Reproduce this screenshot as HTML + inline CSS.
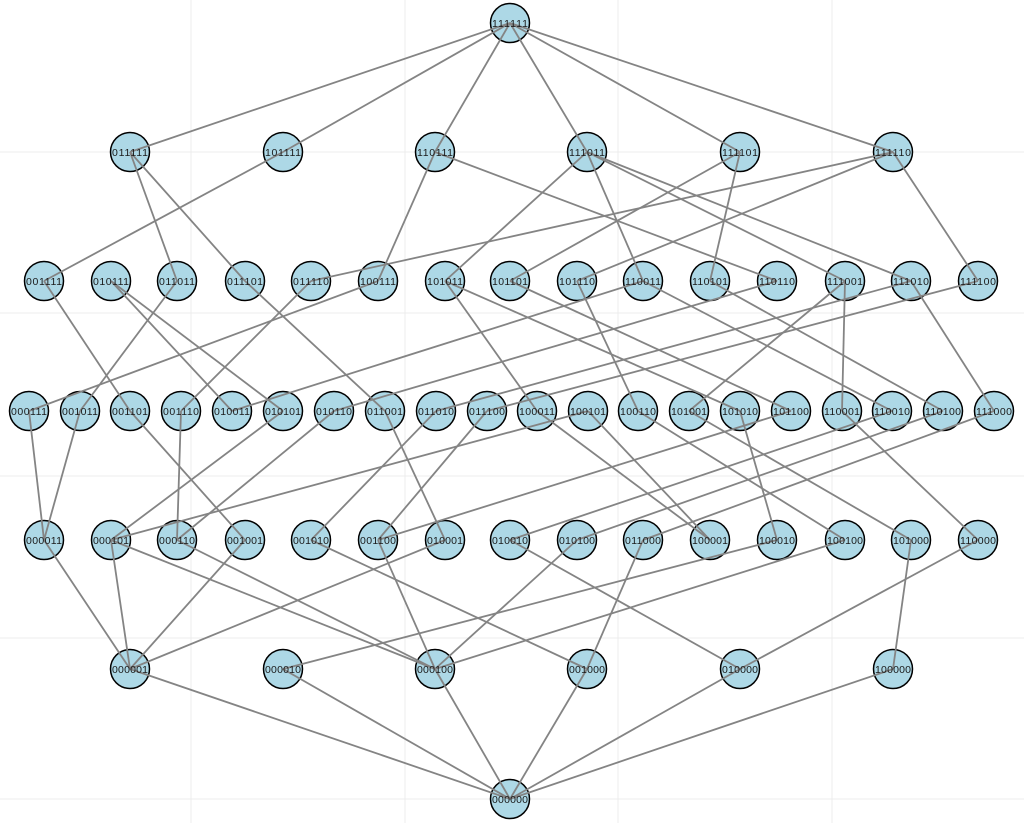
<!DOCTYPE html>
<html><head><meta charset="utf-8"><style>
html,body{margin:0;padding:0;background:#fff;}
svg{display:block;}
.e line{stroke:#848484;stroke-width:1.8;}
.g line{stroke:#ececec;stroke-width:1;}
.n circle{fill:#add8e6;stroke:#000;stroke-width:1.5;}
.t text{font-family:"Liberation Sans",sans-serif;font-size:10.5px;fill:#1a1a1a;text-anchor:middle;}
</style></head><body>
<svg width="1024" height="823" viewBox="0 0 1024 823" xmlns="http://www.w3.org/2000/svg">
<g class="g">
<line x1="191" y1="0" x2="191" y2="823"/><line x1="405" y1="0" x2="405" y2="823"/><line x1="618" y1="0" x2="618" y2="823"/><line x1="832" y1="0" x2="832" y2="823"/>
<line x1="0" y1="152" x2="1024" y2="152"/><line x1="0" y1="313" x2="1024" y2="313"/><line x1="0" y1="476" x2="1024" y2="476"/><line x1="0" y1="638" x2="1024" y2="638"/><line x1="0" y1="799" x2="1024" y2="799"/>
</g>
<g class="n">
<circle cx="510" cy="23" r="19.5"/>
<circle cx="130" cy="152" r="19.5"/><circle cx="283" cy="152" r="19.5"/><circle cx="435" cy="152" r="19.5"/><circle cx="587" cy="152" r="19.5"/><circle cx="740" cy="152" r="19.5"/><circle cx="893" cy="152" r="19.5"/>
<circle cx="44" cy="281" r="19.5"/><circle cx="111" cy="281" r="19.5"/><circle cx="177" cy="281" r="19.5"/><circle cx="245" cy="281" r="19.5"/><circle cx="311" cy="281" r="19.5"/><circle cx="378" cy="281" r="19.5"/><circle cx="445" cy="281" r="19.5"/><circle cx="510" cy="281" r="19.5"/><circle cx="577" cy="281" r="19.5"/><circle cx="643" cy="281" r="19.5"/><circle cx="710" cy="281" r="19.5"/><circle cx="777" cy="281" r="19.5"/><circle cx="845" cy="281" r="19.5"/><circle cx="911" cy="281" r="19.5"/><circle cx="978" cy="281" r="19.5"/>
<circle cx="29" cy="411" r="19.5"/><circle cx="80" cy="411" r="19.5"/><circle cx="130" cy="411" r="19.5"/><circle cx="181" cy="411" r="19.5"/><circle cx="232" cy="411" r="19.5"/><circle cx="283" cy="411" r="19.5"/><circle cx="334" cy="411" r="19.5"/><circle cx="385" cy="411" r="19.5"/><circle cx="436" cy="411" r="19.5"/><circle cx="487" cy="411" r="19.5"/><circle cx="537" cy="411" r="19.5"/><circle cx="588" cy="411" r="19.5"/><circle cx="638" cy="411" r="19.5"/><circle cx="689" cy="411" r="19.5"/><circle cx="740" cy="411" r="19.5"/><circle cx="791" cy="411" r="19.5"/><circle cx="842" cy="411" r="19.5"/><circle cx="892" cy="411" r="19.5"/><circle cx="943" cy="411" r="19.5"/><circle cx="994" cy="411" r="19.5"/>
<circle cx="44" cy="540" r="19.5"/><circle cx="111" cy="540" r="19.5"/><circle cx="177" cy="540" r="19.5"/><circle cx="245" cy="540" r="19.5"/><circle cx="311" cy="540" r="19.5"/><circle cx="378" cy="540" r="19.5"/><circle cx="445" cy="540" r="19.5"/><circle cx="510" cy="540" r="19.5"/><circle cx="577" cy="540" r="19.5"/><circle cx="643" cy="540" r="19.5"/><circle cx="710" cy="540" r="19.5"/><circle cx="777" cy="540" r="19.5"/><circle cx="845" cy="540" r="19.5"/><circle cx="911" cy="540" r="19.5"/><circle cx="978" cy="540" r="19.5"/>
<circle cx="130" cy="669" r="19.5"/><circle cx="283" cy="669" r="19.5"/><circle cx="435" cy="669" r="19.5"/><circle cx="587" cy="669" r="19.5"/><circle cx="740" cy="669" r="19.5"/><circle cx="893" cy="669" r="19.5"/>
<circle cx="510" cy="799" r="19.5"/>
</g>
<g class="e">
<line x1="510" y1="23" x2="130" y2="152"/><line x1="510" y1="23" x2="283" y2="152"/><line x1="510" y1="23" x2="435" y2="152"/><line x1="510" y1="23" x2="587" y2="152"/><line x1="510" y1="23" x2="740" y2="152"/><line x1="510" y1="23" x2="893" y2="152"/>
<line x1="130" y1="152" x2="177" y2="281"/><line x1="130" y1="152" x2="245" y2="281"/><line x1="283" y1="152" x2="44" y2="281"/><line x1="435" y1="152" x2="378" y2="281"/><line x1="435" y1="152" x2="777" y2="281"/><line x1="587" y1="152" x2="445" y2="281"/><line x1="587" y1="152" x2="643" y2="281"/><line x1="587" y1="152" x2="845" y2="281"/><line x1="587" y1="152" x2="911" y2="281"/><line x1="740" y1="152" x2="510" y2="281"/><line x1="740" y1="152" x2="710" y2="281"/><line x1="893" y1="152" x2="311" y2="281"/><line x1="893" y1="152" x2="577" y2="281"/><line x1="893" y1="152" x2="978" y2="281"/>
<line x1="378" y1="281" x2="29" y2="411"/><line x1="177" y1="281" x2="80" y2="411"/><line x1="44" y1="281" x2="130" y2="411"/><line x1="311" y1="281" x2="181" y2="411"/><line x1="111" y1="281" x2="232" y2="411"/><line x1="643" y1="281" x2="232" y2="411"/><line x1="111" y1="281" x2="283" y2="411"/><line x1="777" y1="281" x2="334" y2="411"/><line x1="245" y1="281" x2="385" y2="411"/><line x1="911" y1="281" x2="436" y2="411"/><line x1="978" y1="281" x2="487" y2="411"/><line x1="445" y1="281" x2="537" y2="411"/><line x1="577" y1="281" x2="638" y2="411"/><line x1="845" y1="281" x2="689" y2="411"/><line x1="445" y1="281" x2="740" y2="411"/><line x1="510" y1="281" x2="791" y2="411"/><line x1="845" y1="281" x2="842" y2="411"/><line x1="643" y1="281" x2="892" y2="411"/><line x1="710" y1="281" x2="943" y2="411"/><line x1="911" y1="281" x2="994" y2="411"/>
<line x1="29" y1="411" x2="44" y2="540"/><line x1="80" y1="411" x2="44" y2="540"/><line x1="283" y1="411" x2="111" y2="540"/><line x1="588" y1="411" x2="111" y2="540"/><line x1="181" y1="411" x2="177" y2="540"/><line x1="334" y1="411" x2="177" y2="540"/><line x1="130" y1="411" x2="245" y2="540"/><line x1="436" y1="411" x2="311" y2="540"/><line x1="487" y1="411" x2="378" y2="540"/><line x1="791" y1="411" x2="378" y2="540"/><line x1="385" y1="411" x2="445" y2="540"/><line x1="892" y1="411" x2="510" y2="540"/><line x1="943" y1="411" x2="577" y2="540"/><line x1="994" y1="411" x2="643" y2="540"/><line x1="537" y1="411" x2="710" y2="540"/><line x1="588" y1="411" x2="710" y2="540"/><line x1="740" y1="411" x2="777" y2="540"/><line x1="638" y1="411" x2="845" y2="540"/><line x1="689" y1="411" x2="911" y2="540"/><line x1="842" y1="411" x2="978" y2="540"/>
<line x1="44" y1="540" x2="130" y2="669"/><line x1="111" y1="540" x2="130" y2="669"/><line x1="245" y1="540" x2="130" y2="669"/><line x1="445" y1="540" x2="130" y2="669"/><line x1="777" y1="540" x2="283" y2="669"/><line x1="111" y1="540" x2="435" y2="669"/><line x1="177" y1="540" x2="435" y2="669"/><line x1="378" y1="540" x2="435" y2="669"/><line x1="577" y1="540" x2="435" y2="669"/><line x1="845" y1="540" x2="435" y2="669"/><line x1="643" y1="540" x2="587" y2="669"/><line x1="311" y1="540" x2="587" y2="669"/><line x1="510" y1="540" x2="740" y2="669"/><line x1="978" y1="540" x2="740" y2="669"/><line x1="911" y1="540" x2="893" y2="669"/>
<line x1="510" y1="799" x2="130" y2="669"/><line x1="510" y1="799" x2="283" y2="669"/><line x1="510" y1="799" x2="435" y2="669"/><line x1="510" y1="799" x2="587" y2="669"/><line x1="510" y1="799" x2="740" y2="669"/><line x1="510" y1="799" x2="893" y2="669"/>
</g>
<g class="t">
<text x="510" y="27" textLength="36">111111</text>
<text x="130" y="156" textLength="36">011111</text><text x="283" y="156" textLength="36">101111</text><text x="435" y="156" textLength="36">110111</text><text x="587" y="156" textLength="36">111011</text><text x="740" y="156" textLength="36">111101</text><text x="893" y="156" textLength="36">111110</text>
<text x="44" y="285" textLength="36">001111</text><text x="111" y="285" textLength="36">010111</text><text x="177" y="285" textLength="36">011011</text><text x="245" y="285" textLength="36">011101</text><text x="311" y="285" textLength="36">011110</text><text x="378" y="285" textLength="36">100111</text><text x="445" y="285" textLength="36">101011</text><text x="510" y="285" textLength="36">101101</text><text x="577" y="285" textLength="36">101110</text><text x="643" y="285" textLength="36">110011</text><text x="710" y="285" textLength="36">110101</text><text x="777" y="285" textLength="36">110110</text><text x="845" y="285" textLength="36">111001</text><text x="911" y="285" textLength="36">111010</text><text x="978" y="285" textLength="36">111100</text>
<text x="29" y="415" textLength="36">000111</text><text x="80" y="415" textLength="36">001011</text><text x="130" y="415" textLength="36">001101</text><text x="181" y="415" textLength="36">001110</text><text x="232" y="415" textLength="36">010011</text><text x="283" y="415" textLength="36">010101</text><text x="334" y="415" textLength="36">010110</text><text x="385" y="415" textLength="36">011001</text><text x="436" y="415" textLength="36">011010</text><text x="487" y="415" textLength="36">011100</text><text x="537" y="415" textLength="36">100011</text><text x="588" y="415" textLength="36">100101</text><text x="638" y="415" textLength="36">100110</text><text x="689" y="415" textLength="36">101001</text><text x="740" y="415" textLength="36">101010</text><text x="791" y="415" textLength="36">101100</text><text x="842" y="415" textLength="36">110001</text><text x="892" y="415" textLength="36">110010</text><text x="943" y="415" textLength="36">110100</text><text x="994" y="415" textLength="36">111000</text>
<text x="44" y="544" textLength="36">000011</text><text x="111" y="544" textLength="36">000101</text><text x="177" y="544" textLength="36">000110</text><text x="245" y="544" textLength="36">001001</text><text x="311" y="544" textLength="36">001010</text><text x="378" y="544" textLength="36">001100</text><text x="445" y="544" textLength="36">010001</text><text x="510" y="544" textLength="36">010010</text><text x="577" y="544" textLength="36">010100</text><text x="643" y="544" textLength="36">011000</text><text x="710" y="544" textLength="36">100001</text><text x="777" y="544" textLength="36">100010</text><text x="845" y="544" textLength="36">100100</text><text x="911" y="544" textLength="36">101000</text><text x="978" y="544" textLength="36">110000</text>
<text x="130" y="673" textLength="36">000001</text><text x="283" y="673" textLength="36">000010</text><text x="435" y="673" textLength="36">000100</text><text x="587" y="673" textLength="36">001000</text><text x="740" y="673" textLength="36">010000</text><text x="893" y="673" textLength="36">100000</text>
<text x="510" y="803" textLength="36">000000</text>
</g>
</svg>
</body></html>
